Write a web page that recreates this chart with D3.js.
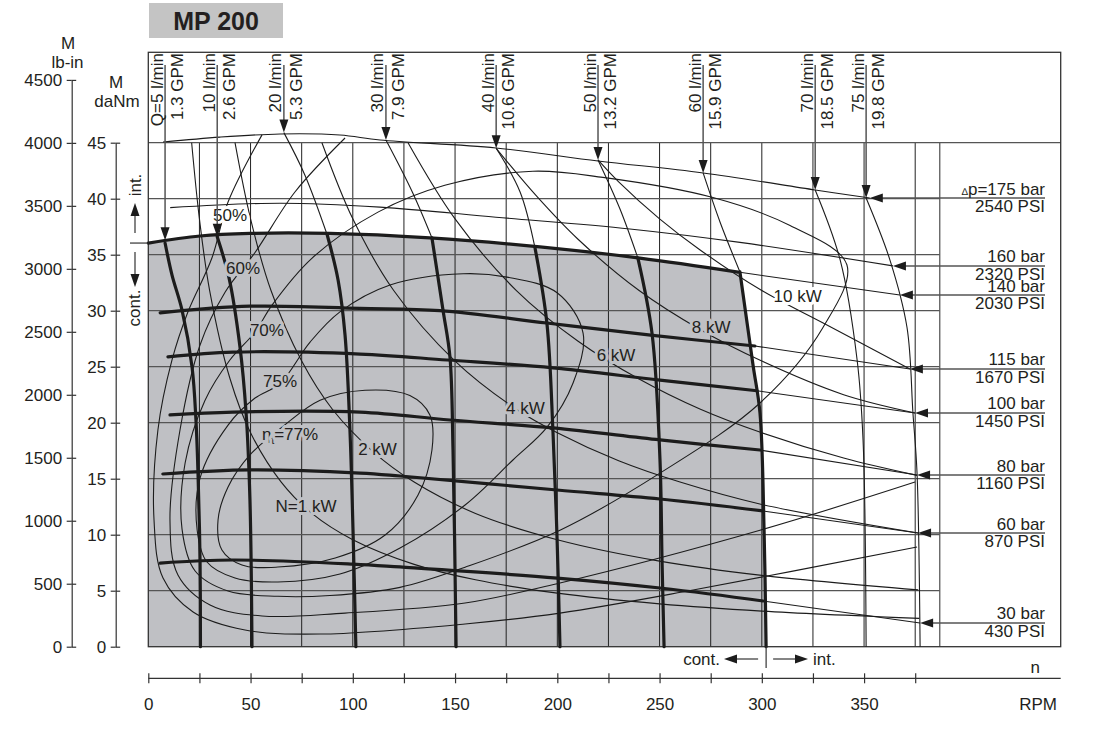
<!DOCTYPE html>
<html><head><meta charset="utf-8">
<script src="https://cdn.jsdelivr.net/npm/d3@7/dist/d3.min.js"></script>
<style>
body{margin:0;background:#fff}
text{font-family:"Liberation Sans",Arial,sans-serif;fill:#231f20;font-size:17px}
</style></head><body>
<svg id="c" width="1112" height="744"></svg>
<script>
// ---------------- data (rpm, daNm) ----------------
const rpmLabelTicks = [0,50,100,150,200,250,300,350];
const rpmTicks = [0,25,50,75,100,125,150,175,200,225,250,275,300,325,350,375];
const daNmTicks = [0,5,10,15,20,25,30,35,40,45];
const lbinTicks = [0,500,1000,1500,2000,2500,3000,3500,4000,4500];
const gridRpm = [25,50,75,100,125,150,175,200,225,250,275,300,325,350,375,387];
const gridM = [5,10,15,20,25,30,35,40];

// pressure lines
const p175 = [[7.2,45.06],[35.1,45.5],[64.4,45.78],[93.7,45.69],[113.3,45.24],[170,44.53],[219.9,43.37],[271.3,42.3],[326.1,40.78],[352.8,40.06]];
const p160 = [[10.7,39.2],[64.4,39.6],[113.3,39.25],[170,38.35],[235.5,37.3],[289.3,36.1],[364.1,34.0]];
const p140 = [[0,36.04],[25.3,36.67],[49.7,36.9],[88.8,36.9],[137.7,36.5],[191.5,35.7],[240.4,34.7],[288.4,33.45],[367.5,31.4]];
const p115 = [[5.8,29.8],[49.7,30.4],[103.5,30.2],[142.6,30.0],[194.9,28.9],[246.7,27.8],[296.6,26.85],[372.4,24.8]];
const p100 = [[9.6,25.87],[41.4,26.3],[103.5,26.13],[146.1,25.6],[197.9,24.9],[250.2,23.8],[297.6,22.85],[374.9,20.87]];
const p80  = [[10.6,20.69],[41.4,20.95],[103.5,20.95],[147.5,20.24],[197.9,19.53],[250.2,18.46],[299.1,17.56],[375.9,15.33]];
const p60  = [[7.1,15.42],[49.7,15.78],[103.5,15.5],[123.1,15.24],[199.9,13.99],[250.2,13.19],[300.6,12.12],[376.4,10.15]];
const p30  = [[5.8,7.47],[41.4,7.74],[100.1,7.38],[123.1,7.12],[199.9,6.13],[250.2,5.24],[300.6,4.08],[377.4,2.12]];
const pressureCont = [null,null,288.4,296.6,297.6,299.1,300.6,300.6];
const pressureBar = ["175 bar","160 bar","140 bar","115 bar","100 bar","80 bar","60 bar","30 bar"];
const pressurePsi = ["2540 PSI","2320 PSI","2030 PSI","1670 PSI","1450 PSI","1160 PSI","870 PSI","430 PSI"];

// flow lines
const q5  = [[8.2,36.04],[11.6,33.18],[16.5,30.05],[21.4,24.96],[23.3,20.24],[24.3,15.51],[25.3,7.74],[25.5,0]];
const q10 = [[33.7,36.6],[39.5,32.9],[44.8,26.8],[47.8,20.9],[49.7,13.1],[50.7,0]];
const q20 = [[66.3,45.9],[76.6,42.1],[87.5,36.76],[92.8,32.74],[96.2,27.83],[98.6,19.35],[100.1,10.42],[101.5,0]];
const q30 = [[116.2,45.24],[129.1,40.6],[138.7,36.5],[144.1,30.06],[147.5,25.87],[149.0,17.56],[150.5,0]];
const q40 = [[170.1,44.5],[181.8,40.6],[189.1,35.6],[194.9,28.9],[197.9,19.1],[199.9,9.53],[201.3,0]];
const q50 = [[219.9,43.46],[230.6,39.1],[239.4,34.7],[246.3,28.0],[250.2,16.7],[251.2,7.74],[252.2,0]];
const q60 = [[271.3,42.3],[279.6,37.9],[289.3,33.46],[295.7,25.15],[299.1,20.87],[301.1,10.42],[302.1,0]];
const q70 = [[326.1,40.78],[338.3,34.53],[346.6,25.6],[349.5,18.46],[351.0,0]];
const q75 = [[351.0,40.06],[362.7,34.5],[371.0,28.5],[373.9,20.85],[375.9,15.5],[377.4,0]];
const flowCont = [36.04,36.6,36.76,36.5,35.6,34.7,33.46,null,null];
const flowTip = [[8.2,36.3],[33.7,36.6],[66.3,45.9],[116.2,45.24],[170.1,44.5],[219.9,43.46],[271.3,42.3],[326.1,40.78],[351,40.06]];
const flowLpm = ["Q=5 l/min","10 l/min","20 l/min","30 l/min","40 l/min","50 l/min","60 l/min","70 l/min","75 l/min"];
const flowGpm = ["1.3 GPM","2.6 GPM","5.3 GPM","7.9 GPM","10.6 GPM","13.2 GPM","15.9 GPM","18.5 GPM","19.8 GPM"];

// efficiency contours
const eff50 = [[55.6,45.7],[39.0,39.7],[31.1,34.7],[19.4,29.9],[11.6,25.6],[4.7,19.35],[2.8,11.3],[7.2,6.13],[21.9,3.1],[47.3,1.49],[84.0,1.13],[154.9,2.03],[201.3,3.0],[266.4,5.06],[375.9,8.9]];
const eff60 = [[96.2,45.42],[71.7,40.6],[52.2,35.2],[37.6,31.67],[25.3,26.94],[15.5,19.35],[10.6,11.31],[14.5,6.4],[30.2,3.72],[55.6,2.74],[96.2,3.0],[154.9,3.9],[201.3,5.69],[299.1,10.4],[374.9,14.7]];
const eff70 = [[52.2,28.1],[60.5,30.5],[80.1,34.7],[112.3,38.8],[145.0,41.2],[188.1,42.45],[222.3,41.9],[276.1,40.1],[313.8,37.6],[341.6,34.1],[329.9,28.5],[299.1,21.76],[250.2,15.5],[201.3,10.4],[154.9,7.1],[123.1,5.3],[88.8,4.57],[63.4,4.5],[39.0,4.97],[22.9,6.76],[16.5,10.5],[18.0,16.4],[27.7,21.99],[39.9,25.6]];
const eff75 = [[64.4,23.5],[79.1,27.2],[93.7,29.9],[118.2,32.3],[153.9,33.3],[175.4,33.0],[199.9,31.6],[212.6,28.0],[207.7,23.55],[195.0,19.6],[178.3,16.67],[154.9,12.65],[123.1,8.81],[93.7,6.49],[63.4,5.78],[42.4,6.13],[28.7,7.56],[23.9,10.4],[25.3,15.06],[39.0,19.79],[52.2,22.2]];
const eff77 = [[65.4,19.6],[84.0,22.0],[106.0,22.9],[127.9,22.43],[137.7,20.69],[138.7,17.56],[131.9,13.54],[115.8,9.97],[91.4,7.92],[63.4,7.11],[45.8,7.29],[36.0,8.63],[34.1,11.31],[39.0,14.26],[49.7,17.12]];
const effLabels = ["50%","60%","70%","75%"];
const effLabelPos = [[39.95,38.0],[46.3,33.28],[58.0,27.74],[64.4,23.19]];
const eta77Pos = [69.3,18.46];

// power curves
const pw1  = [[21.2,45],[25,38.2],[30,31.8],[40,23.9],[50,19.1],[65,14.7],[80,11.9],[100,9.55],[130,7.35],[160,5.97],[200,4.78],[250,3.82],[300,3.18],[377,2.53]];
const pw2  = [[42.4,45],[50,38.2],[60,31.8],[75,25.5],[90,21.2],[110,17.4],[130,14.7],[160,11.9],[200,9.55],[250,7.64],[300,6.37],[376.5,5.07]];
const pw4  = [[84.9,45],[100,38.2],[120,31.8],[150,25.5],[180,21.2],[200,19.1],[230,16.6],[260,14.7],[300,12.7],[376.4,10.15]];
const pw6  = [[127,45],[150,38.2],[180,31.8],[210,27.3],[240,23.9],[270,21.2],[300,19.1],[340,16.85],[375.9,15.3]];
const pw8  = [[170.1,44.5],[190,40.2],[210,36.4],[240,31.8],[270,28.3],[300,25.5],[340,22.5],[374.9,20.87]];
const pw10 = [[219.9,43.46],[230,41.5],[250,38.2],[270,35.4],[300,31.8],[330,28.9],[372.4,24.8]];
const powerLabels = ["N=1 kW","2 kW","4 kW","6 kW","8 kW","10 kW"];
const powerLabelPos = [[77.1,12.03],[112.1,17.12],[184.4,20.78],[228.7,25.5],[275.2,28.0],[317.5,30.78]];

// ---------------- drawing ----------------
const svg = d3.select("#c");
const x = d3.scaleLinear().domain([0,375]).range([148.3,915.2]);
const y = d3.scaleLinear().domain([0,45]).range([646.7,142.7]);
const yLb = d3.scaleLinear().domain([0,4500]).range([646.7,79.9]);
const FR = 1060.7, FT = 52.3, FL = x(0), FB = y(0);
const INK = "#1c1c1c", SHADE = "#bfc0c4";

const line = d3.line().x(d=>x(d[0])).y(d=>y(d[1])).curve(d3.curveCatmullRom.alpha(0.5));
const loop = d3.line().x(d=>x(d[0])).y(d=>y(d[1])).curve(d3.curveCatmullRomClosed.alpha(0.5));

const pressures = [p175,p160,p140,p115,p100,p80,p60,p30];
const flows = [q5,q10,q20,q30,q40,q50,q60,q70,q75];

// title
svg.append("rect").attr("x",149).attr("y",3).attr("width",134).attr("height",35).attr("fill","#c4c4c4");
svg.append("text").attr("x",216).attr("y",30).attr("text-anchor","middle")
  .style("font-size","25px").style("font-weight","bold").text("MP 200");

// shaded continuous region
const topCont = p140.filter(p=>p[0]<=pressureCont[2]);
const rightCont = q60.filter(p=>p[1]<=flowCont[6]);
svg.append("path")
  .attr("d", line(topCont) + line(rightCont).replace(/^M/,"L") + `L${x(0)},${y(0)}Z`)
  .attr("fill",SHADE);

// grid
const grid = svg.append("g");
grid.selectAll(".v").data(gridRpm).join("line")
  .attr("x1",d=>x(d)).attr("x2",d=>x(d)).attr("y1",y(45)).attr("y2",y(0))
  .attr("stroke",d=>d===387?"#666":"#222").attr("stroke-width",d=>d===387?1.4:1);
grid.selectAll(".h").data(gridM).join("line")
  .attr("x1",FL).attr("x2",x(387)).attr("y1",d=>y(d)).attr("y2",d=>y(d))
  .attr("stroke","#555").attr("stroke-width",1.3);
grid.append("line").attr("x1",FL).attr("x2",FR).attr("y1",y(45)).attr("y2",y(45))
  .attr("stroke","#555").attr("stroke-width",1.3);
svg.append("rect").attr("x",FL).attr("y",FT).attr("width",FR-FL).attr("height",FB-FT)
  .attr("fill","none").attr("stroke","#333").attr("stroke-width",1.3);

// thin curves
const thin = svg.append("g").attr("fill","none").attr("stroke",INK).attr("stroke-width",1.1);
[eff50,eff60].forEach(c=>thin.append("path").attr("d",line(c)));
[eff70,eff75,eff77].forEach(c=>thin.append("path").attr("d",loop(c)));
[pw1,pw2,pw4,pw6,pw8,pw10].forEach(c=>thin.append("path").attr("d",line(c)));
pressures.forEach((pts,i)=>{
  const end = pressureCont[i];
  const t = end===null ? pts : pts.filter(p=>p[0]>=end);
  if (t.length>1) thin.append("path").attr("d",line(t));
});
flows.forEach((pts,i)=>{
  const s = flowCont[i];
  const t = s===null ? pts : pts.filter(p=>p[1]>=s);
  if (t.length>1) thin.append("path").attr("d",line(t));
});

// thick curves
const thick = svg.append("g").attr("fill","none").attr("stroke",INK).attr("stroke-width",3.2)
  .attr("stroke-linecap","round");
pressures.forEach((pts,i)=>{
  const end = pressureCont[i];
  if (end===null) return;
  thick.append("path").attr("d",line(pts.filter(p=>p[0]<=end)));
});
flows.forEach((pts,i)=>{
  const s = flowCont[i];
  if (s===null) return;
  thick.append("path").attr("d",line(pts.filter(p=>p[1]<=s)));
});

// in-chart labels with knock-out halo
function inShade(p){ return p[0] < 289 && p[1] < 36 - p[0]/290*2.5; }
function halo(sel,p){
  sel.attr("stroke", inShade(p)?SHADE:"#fff").attr("stroke-width",6)
     .attr("stroke-linejoin","round").style("paint-order","stroke");
}
const lab = svg.append("g").attr("text-anchor","middle");
effLabels.forEach((t,i)=>{
  const p = effLabelPos[i];
  lab.append("text").attr("x",x(p[0])).attr("y",y(p[1])).text(t).call(halo,p);
});
powerLabels.forEach((t,i)=>{
  const p = powerLabelPos[i];
  lab.append("text").attr("x",x(p[0])).attr("y",y(p[1])).text(t).call(halo,p);
});
const eta = lab.append("text").attr("x",x(eta77Pos[0])).attr("y",y(eta77Pos[1])).call(halo,eta77Pos);
eta.append("tspan").text("η");
eta.append("tspan").attr("dy",4).style("font-size","10px").text("t");
eta.append("tspan").attr("dy",-4).text("=77%");

// arrows helper
const arr = svg.append("g");
function arrowHead(tx,ty,dir){
  const L=13, W=4.5;
  let pts;
  if(dir==="down") pts=[[tx,ty],[tx-W,ty-L],[tx+W,ty-L]];
  if(dir==="up") pts=[[tx,ty],[tx-W,ty+L],[tx+W,ty+L]];
  if(dir==="left") pts=[[tx,ty],[tx+L,ty-W],[tx+L,ty+W]];
  if(dir==="right") pts=[[tx,ty],[tx-L,ty-W],[tx-L,ty+W]];
  arr.append("polygon").attr("points",pts.map(p=>p.join(",")).join(" ")).attr("fill",INK);
}

// flow labels at top
flowTip.forEach((tp,i)=>{
  const ax = x(tp[0]), ty = y(tp[1]);
  arr.append("line").attr("x1",ax).attr("x2",ax).attr("y1",65).attr("y2",ty-10)
    .attr("stroke","#555").attr("stroke-width",1.5);
  arrowHead(ax,ty,"down");
  svg.append("text").attr("transform",`translate(${ax-2.5},53) rotate(-90)`)
    .attr("text-anchor","end").text(flowLpm[i]);
  svg.append("text").attr("transform",`translate(${ax+18},53) rotate(-90)`)
    .attr("text-anchor","end").text(flowGpm[i]);
});

// pressure labels at right
pressures.forEach((pts,i)=>{
  const tp = pts[pts.length-1];
  const tx = x(tp[0]), ty = y(tp[1]);
  arr.append("line").attr("x1",1045).attr("x2",tx+10).attr("y1",ty).attr("y2",ty)
    .attr("stroke","#555").attr("stroke-width",1.5);
  arrowHead(tx,ty,"left");
  const t = svg.append("text").attr("x",1045).attr("y",ty-3.5).attr("text-anchor","end");
  if(i===0){ t.append("tspan").style("font-size","10px").text("∆"); t.append("tspan").text("p="+pressureBar[i]); }
  else t.text(pressureBar[i]);
  svg.append("text").attr("x",1045).attr("y",ty+14).attr("text-anchor","end").text(pressurePsi[i]);
});

// left axes
const fmt = d3.format("d");
const gD = svg.append("g").attr("transform",`translate(115.7,0)`)
  .call(d3.axisLeft(y).tickValues(daNmTicks).tickFormat(fmt).tickSizeInner(5).tickSizeOuter(0).tickPadding(4.5));
const gL = svg.append("g").attr("transform",`translate(71.7,0)`)
  .call(d3.axisLeft(yLb).tickValues(lbinTicks).tickFormat(fmt).tickSizeInner(5).tickSizeOuter(0).tickPadding(4.5));
[gD,gL].forEach(g=>{
  g.selectAll(".tick").append("line").attr("x2",4.5).attr("stroke","currentColor");
  g.selectAll("text").style("font-size","17px").attr("fill","#231f20");
  g.selectAll("line,path").attr("stroke","#333").attr("stroke-width",1.2);
  g.attr("font-family",null).attr("font-size",null);
});
svg.append("text").attr("x",68).attr("y",49).attr("text-anchor","middle").text("M");
svg.append("text").attr("x",67.5).attr("y",68).attr("text-anchor","middle").text("lb-in");
svg.append("text").attr("x",116).attr("y",88).attr("text-anchor","middle").text("M");
svg.append("text").attr("x",117).attr("y",107).attr("text-anchor","middle").text("daNm");

// bottom axis
const gB = svg.append("g").attr("transform",`translate(0,678.3)`)
  .call(d3.axisBottom(x).tickValues(rpmTicks).tickSizeInner(5).tickSizeOuter(0).tickPadding(15)
    .tickFormat(d=>rpmLabelTicks.includes(d)?fmt(d):""));
gB.select(".domain").remove();
gB.selectAll(".tick").append("line").attr("y2",-5).attr("stroke","currentColor");
gB.selectAll("line").attr("stroke","#333").attr("stroke-width",1.2);
gB.selectAll("text").style("font-size","17px").attr("fill","#231f20");
gB.attr("font-family",null).attr("font-size",null);
svg.append("line").attr("x1",FL).attr("x2",FR).attr("y1",678.3).attr("y2",678.3)
  .attr("stroke","#333").attr("stroke-width",1.3);
svg.append("text").attr("x",1040).attr("y",673).attr("text-anchor","end").text("n");
svg.append("text").attr("x",1057).attr("y",710).attr("text-anchor","end").text("RPM");

// int./cont. annotations (left)
const y36 = y(p140[0][1]);
svg.append("line").attr("x1",130).attr("x2",FL).attr("y1",y36).attr("y2",y36).attr("stroke","#333").attr("stroke-width",1.2);
svg.append("text").attr("transform","translate(141,185) rotate(-90)").attr("text-anchor","middle").text("int.");
arr.append("line").attr("x1",135).attr("x2",135).attr("y1",233).attr("y2",212).attr("stroke","#333").attr("stroke-width",1.2);
arrowHead(135,203,"up");
svg.append("text").attr("transform","translate(140,308) rotate(-90)").attr("text-anchor","middle").text("cont.");
arr.append("line").attr("x1",135).attr("x2",135).attr("y1",252).attr("y2",278).attr("stroke","#333").attr("stroke-width",1.2);
arrowHead(135,287,"down");

// int./cont. annotations (bottom)
const xc = x(q60[q60.length-1][0]);
svg.append("line").attr("x1",xc).attr("x2",xc).attr("y1",FB).attr("y2",668).attr("stroke","#333").attr("stroke-width",1.2);
svg.append("text").attr("x",720).attr("y",665).attr("text-anchor","end").text("cont.");
arr.append("line").attr("x1",xc-8).attr("x2",733).attr("y1",659).attr("y2",659).attr("stroke","#333").attr("stroke-width",1.2);
arrowHead(724,659,"left");
arr.append("line").attr("x1",xc+7).attr("x2",799).attr("y1",659).attr("y2",659).attr("stroke","#333").attr("stroke-width",1.2);
arrowHead(808,659,"right");
svg.append("text").attr("x",813).attr("y",665).text("int.");
</script>
</body></html>
